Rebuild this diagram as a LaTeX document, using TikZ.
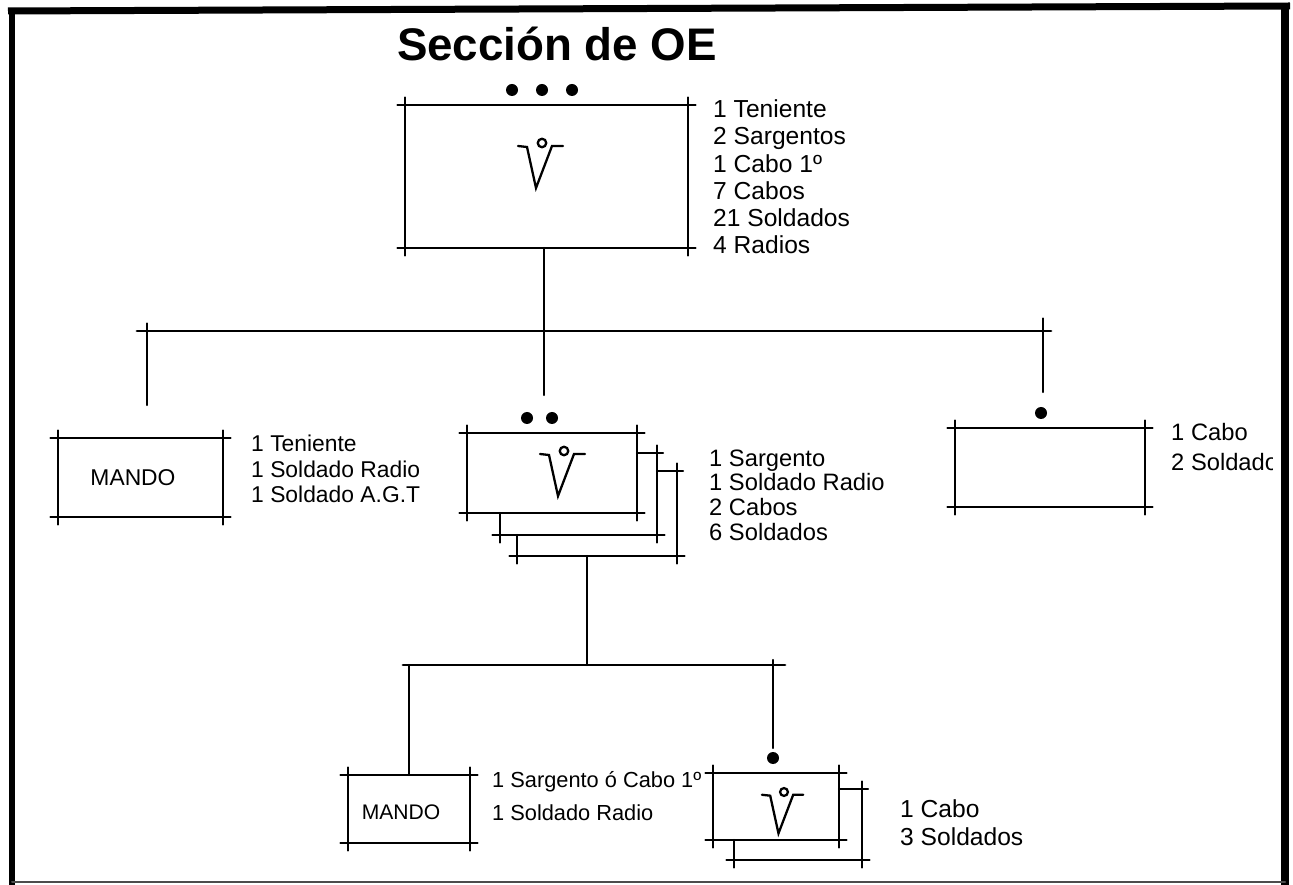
\documentclass[tikz,border=0pt]{standalone}
\usepackage{fontspec}
\setmainfont{Liberation Sans}

% box drawn with its four sides running past the corners
\newcommand{\crossbox}[1]{%
  \draw[over] (#1.north west) -- (#1.north east);
  \draw[over] (#1.south west) -- (#1.south east);
  \draw[over] (#1.north west) -- (#1.south west);
  \draw[over] (#1.north east) -- (#1.south east);}

\begin{document}
\begin{tikzpicture}[x=0.2mm, y=-0.2mm, line width=1.4pt, line cap=round,
    unit/.style={rectangle, inner sep=0pt, outer sep=0pt},
    over/.style={shorten <=-1.5mm, shorten >=-1.5mm},
    bus/.style={line width=1.6pt},
    lbl/.style={anchor=west, align=left, inner sep=0pt},
    dot/.style={circle, fill, inner sep=0pt, minimum size=2.4mm},
    vmark/.pic={\draw[line width=1.3pt] (0,0) circle (0.85mm);
                \draw[line width=1.3pt] (-24,3) -- (-15,4) -- (-6,45) -- (10,3) -- (21,3);}]
  \useasboundingbox (0,0) rectangle (1293,885);

  % Title
  \node[font=\bfseries\fontsize{26}{30}\selectfont, anchor=base] (title) at (557,61) {Sección de OE};

  % Define nodes
  \node[unit, minimum width=56.6mm, minimum height=28.6mm] (T) at (546.5,176.5) {};
  \node[unit, minimum width=33mm, minimum height=15.8mm] (LM) at (140.5,477.5) {};
  \node[unit, minimum width=34mm, minimum height=16mm] (M1) at (552,473) {};
  \node[unit, minimum width=31.4mm, minimum height=16.4mm] (M2) at (578.5,494) {};
  \node[unit, minimum width=32mm, minimum height=17mm] (M3) at (597,513.5) {};
  \node[unit, minimum width=38mm, minimum height=15.8mm] (R) at (1050,467.5) {};
  \node[unit, minimum width=24.4mm, minimum height=13.6mm] (LB) at (409,809) {};
  \node[unit, minimum width=25.2mm, minimum height=13.4mm] (B1) at (776,806.5) {};
  \node[unit, minimum width=25.6mm, minimum height=14.2mm] (B2) at (798,824.5) {};

  \node[font=\fontsize{13}{15}\selectfont] (LMtext) at (133,478) {MANDO};
  \node[font=\fontsize{12}{14}\selectfont] (LBtext) at (401,812) {MANDO};

  % Draw the boxes
  \crossbox{T}
  \crossbox{LM}
  \crossbox{M1}
  \crossbox{R}
  \crossbox{LB}
  \crossbox{B1}
  % boxes stacked behind
  \draw[shorten >=-1.2mm] (M1.east |- M2.north) -- (M2.north east);
  \draw[over] (M2.north east) -- (M2.south east);
  \draw[over] (M2.south west) -- (M2.south east);
  \draw[shorten >=-1.5mm] (M2.west |- M1.south) -- (M2.south west);
  \draw[shorten >=-1.2mm] (M2.east |- M3.north) -- (M3.north east);
  \draw[over] (M3.north east) -- (M3.south east);
  \draw[over] (M3.south west) -- (M3.south east);
  \draw[shorten >=-1.5mm] (M3.west |- M2.south) -- (M3.south west);
  \draw[shorten >=-1.2mm] (B1.east |- B2.north) -- (B2.north east);
  \draw[over] (B2.north east) -- (B2.south east);
  \draw[over] (B2.south west) -- (B2.south east);
  \draw[shorten >=-1.5mm] (B2.west |- B1.south) -- (B2.south west);

  % Symbols and dots
  \pic at (542,143) {vmark};
  \pic at (564,451) {vmark};
  \pic[scale=0.92] at (784,792) {vmark};
  \node[dot] (d1) at (512,90) {};
  \node[dot] (d2) at (542,90) {};
  \node[dot] (d3) at (572,90) {};
  \node[dot] (d4) at (527,418) {};
  \node[dot] (d5) at (552,418) {};
  \node[dot] (d6) at (1041,413) {};
  \node[dot] (d7) at (773,758) {};

  % Draw the connectors
  \coordinate (busW) at (137,331);
  \coordinate (busE) at (1051,331);
  \coordinate (dropW) at (147,405);
  \coordinate (dropC) at (544,395);
  \coordinate (dropE) at (1043,392);
  \draw (T.south -| dropC) -- (dropC);
  \draw[bus] (busW) -- (busE);
  \draw[shorten <=-1.5mm] (dropW |- busW) -- (dropW);
  \draw[shorten <=-2.5mm] (dropE |- busE) -- (dropE);

  \coordinate (bus2W) at (403,665);
  \coordinate (bus2E) at (785,665);
  \coordinate (J2) at (587,665);
  \coordinate (drop2E) at (773,748);
  \draw (M3.south -| J2) -- (J2);
  \draw[bus] (bus2W) -- (bus2E);
  \draw (LB.north |- bus2W) -- (LB.north);
  \draw[shorten <=-1mm] (drop2E |- bus2E) -- (drop2E);

  % Labels
  \node[lbl, font=\fontsize{14}{15.5}\selectfont] (Tlbl) at (712,177)
    {1 Teniente\\2 Sargentos\\1 Cabo 1º\\7 Cabos\\21 Soldados\\4 Radios};
  \node[lbl, font=\fontsize{13}{14.7}\selectfont] (LMlbl) at (250,469)
    {1 Teniente\\1 Soldado Radio\\1 Soldado A.G.T};
  \node[lbl, font=\fontsize{13.5}{14}\selectfont] (Mlbl) at (708,495)
    {1 Sargento\\1 Soldado Radio\\2 Cabos\\6 Soldados};
  \begin{scope}
    \clip (0,0) rectangle (1272,885);
    \node[lbl, font=\fontsize{13.5}{17.6}\selectfont] (Rlbl) at (1170,447)
      {1 Cabo\\2 Soldados};
  \end{scope}
  \node[lbl, font=\fontsize{12.4}{18.7}\selectfont] (LBlbl) at (491,796)
    {1 Sargento ó Cabo 1º\\1 Soldado Radio};
  \node[lbl, font=\fontsize{14}{15.9}\selectfont] (Blbl) at (899,823)
    {1 Cabo\\3 Soldados};

  % Frame
  \draw[line width=1.4mm, line cap=butt] (8,11) -- (1290,6);
  \draw[line width=1.2mm, line cap=butt] (12,8) -- (12,885);
  \draw[line width=1.6mm, line cap=butt] (1285,4) -- (1285,885);
  \draw[line width=0.4mm, black!70] (12,882) -- (1285,882);
\end{tikzpicture}
\end{document}
